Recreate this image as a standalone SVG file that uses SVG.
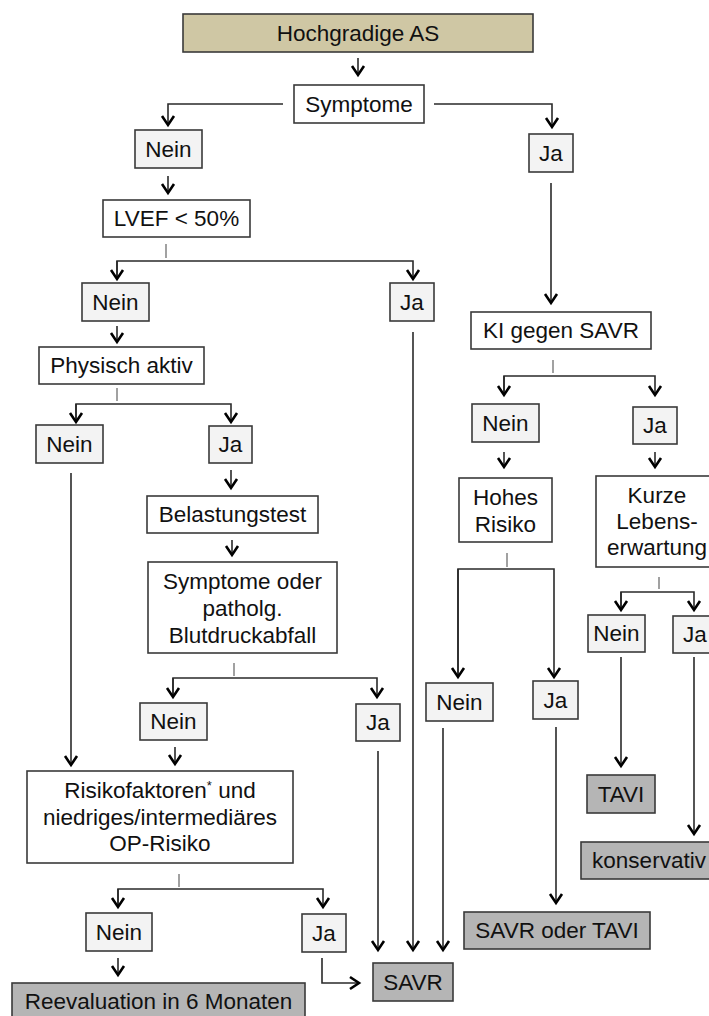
<svg xmlns="http://www.w3.org/2000/svg" width="709" height="1016" viewBox="0 0 709 1016">
<style>
  rect { stroke: #3a3a3a; stroke-width: 1.6; }
  .start { fill: #cfc7a4; }
  .q { fill: #ffffff; }
  .a { fill: #f3f3f3; }
  .end { fill: #b5b5b5; }
  text { font-family: "Liberation Sans", Arial, sans-serif; font-size: 22.5px; fill: #111; text-anchor: middle; }
  .c { fill: none; stroke: #2a2a2a; stroke-width: 1.6; }
  .stem { fill: none; stroke: #8a8a8a; stroke-width: 1.6; }
  .arr { marker-end: url(#ah); }
</style>
<defs>
  <marker id="ah" markerUnits="userSpaceOnUse" markerWidth="16" markerHeight="16" viewBox="-2 -8 14 16" refX="9" refY="0" orient="auto">
    <path d="M0,-6 L9,0 L0,6" fill="none" stroke="#000" stroke-width="2.6"/>
  </marker>
</defs>

<g id="connectors">
  <path class="c arr" d="M358,58 V75"/>
  <path class="c arr" d="M283,104 H168 V125"/>
  <path class="c arr" d="M434,104 H552 V127"/>
  <path class="c arr" d="M168,176 V193"/>
  <path class="c arr" d="M551,183 V303"/>
  <path class="stem" d="M166,244 V258"/>
  <path class="c arr" d="M117,279 V261 H413 V279"/>
  <path class="c arr" d="M117,261 V279"/>
  <path class="c arr" d="M117,326 V342"/>
  <path class="c arr" d="M413,332 V950"/>
  <path class="stem" d="M117,388 V401"/>
  <path class="c arr" d="M76,422 V404 H231 V422"/>
  <path class="c arr" d="M76,404 V422"/>
  <path class="c arr" d="M71,473 V765"/>
  <path class="c arr" d="M231,470 V488"/>
  <path class="c arr" d="M232,540 V555"/>
  <path class="stem" d="M234,663 V676"/>
  <path class="c arr" d="M173,697 V678 H377 V697"/>
  <path class="c arr" d="M173,678 V697"/>
  <path class="c arr" d="M175,747 V764"/>
  <path class="c arr" d="M378,751 V950"/>
  <path class="stem" d="M179,874 V887"/>
  <path class="c arr" d="M118,907 V889 H323 V907"/>
  <path class="c arr" d="M118,889 V907"/>
  <path class="c arr" d="M118,958 V975"/>
  <path class="c arr" d="M322,958 V983 H359"/>
  <path class="stem" d="M553,360 V373"/>
  <path class="c arr" d="M504,395 V376 H655 V395"/>
  <path class="c arr" d="M504,376 V395"/>
  <path class="c arr" d="M504,452 V467"/>
  <path class="c arr" d="M655,452 V467"/>
  <path class="stem" d="M507,553 V567"/>
  <path class="c arr" d="M458,677 V569 H554 V677"/>
  <path class="c arr" d="M458,569 V677"/>
  <path class="c arr" d="M443,728 V950"/>
  <path class="c arr" d="M556,727 V903"/>
  <path class="stem" d="M659,577 V589"/>
  <path class="c arr" d="M621,610 V592 H694 V610"/>
  <path class="c arr" d="M621,592 V610"/>
  <path class="c arr" d="M621,657 V766"/>
  <path class="c arr" d="M694,657 V834"/>
</g>

<g id="hochgradige"><rect class="start" x="183" y="14" width="350" height="38"/><text x="358" y="41">Hochgradige AS</text></g>
<g id="symptome"><rect class="q" x="294" y="85" width="130" height="38"/><text x="359" y="112">Symptome</text></g>
<g id="nein1"><rect class="a" x="135" y="130" width="67" height="38"/><text x="168.5" y="157">Nein</text></g>
<g id="ja1"><rect class="a" x="529" y="134" width="44" height="38"/><text x="551" y="161">Ja</text></g>
<g id="lvef"><rect class="q" x="103" y="200" width="147" height="37"/><text x="176.5" y="226">LVEF &lt; 50%</text></g>
<g id="nein2"><rect class="a" x="82" y="283" width="67" height="38"/><text x="115.5" y="310">Nein</text></g>
<g id="ja2"><rect class="a" x="390" y="283" width="44" height="38"/><text x="412" y="310">Ja</text></g>
<g id="physisch"><rect class="q" x="39" y="347" width="165" height="37"/><text x="121.5" y="373">Physisch aktiv</text></g>
<g id="nein3"><rect class="a" x="36" y="425" width="67" height="38"/><text x="69.5" y="452">Nein</text></g>
<g id="ja3"><rect class="a" x="209" y="426" width="43" height="37"/><text x="230.5" y="452">Ja</text></g>
<g id="belastung"><rect class="q" x="147" y="496" width="171" height="37"/><text x="232.5" y="522">Belastungstest</text></g>
<g id="symptome2"><rect class="q" x="148" y="562" width="189" height="91"/>
  <text x="242.5" y="589">Symptome oder</text><text x="242.5" y="616">patholg.</text><text x="242.5" y="643">Blutdruckabfall</text></g>
<g id="nein4"><rect class="a" x="140" y="703" width="67" height="37"/><text x="173.5" y="729">Nein</text></g>
<g id="ja4"><rect class="a" x="356" y="704" width="44" height="37"/><text x="378" y="730">Ja</text></g>
<g id="risiko"><rect class="q" x="27" y="771" width="266" height="92"/>
  <text x="160" y="798">Risikofaktoren<tspan font-size="13" dy="-8">*</tspan><tspan dy="8"> und</tspan></text>
  <text x="160" y="825">niedriges/intermediäres</text><text x="160" y="851">OP-Risiko</text></g>
<g id="nein5"><rect class="a" x="86" y="913" width="66" height="38"/><text x="119" y="940">Nein</text></g>
<g id="ja5"><rect class="a" x="302" y="914" width="44" height="38"/><text x="324" y="941">Ja</text></g>
<g id="reevaluation"><rect class="end" x="12" y="983" width="293" height="40"/><text x="158.5" y="1009">Reevaluation in 6 Monaten</text></g>
<g id="savr"><rect class="end" x="373" y="963" width="80" height="38"/><text x="413" y="990">SAVR</text></g>
<g id="ki"><rect class="q" x="471" y="312" width="180" height="37"/><text x="561" y="338">KI gegen SAVR</text></g>
<g id="nein6"><rect class="a" x="472" y="404" width="67" height="38"/><text x="505.5" y="431">Nein</text></g>
<g id="ja6"><rect class="a" x="633" y="407" width="44" height="37"/><text x="655" y="433">Ja</text></g>
<g id="hohes"><rect class="q" x="459" y="478" width="93" height="64"/><text x="505.5" y="505">Hohes</text><text x="505.5" y="532">Risiko</text></g>
<g id="kurze"><rect class="q" x="596" y="476" width="122" height="91"/>
  <text x="657" y="503">Kurze</text><text x="657" y="529">Lebens-</text><text x="657" y="555">erwartung</text></g>
<g id="nein7"><rect class="a" x="426" y="683" width="67" height="38"/><text x="459.5" y="710">Nein</text></g>
<g id="ja7"><rect class="a" x="533" y="681" width="45" height="38"/><text x="555.5" y="708">Ja</text></g>
<g id="savrtavi"><rect class="end" x="464" y="912" width="186" height="37"/><text x="557" y="938">SAVR oder TAVI</text></g>
<g id="nein8"><rect class="a" x="588" y="615" width="57" height="37"/><text x="616.5" y="641">Nein</text></g>
<g id="ja8"><rect class="a" x="673" y="616" width="44" height="37"/><text x="695" y="642">Ja</text></g>
<g id="tavi"><rect class="end" x="587" y="775" width="68" height="38"/><text x="621" y="802">TAVI</text></g>
<g id="konservativ"><rect class="end" x="581" y="842" width="136" height="37"/><text x="649" y="868">konservativ</text></g>
</svg>
